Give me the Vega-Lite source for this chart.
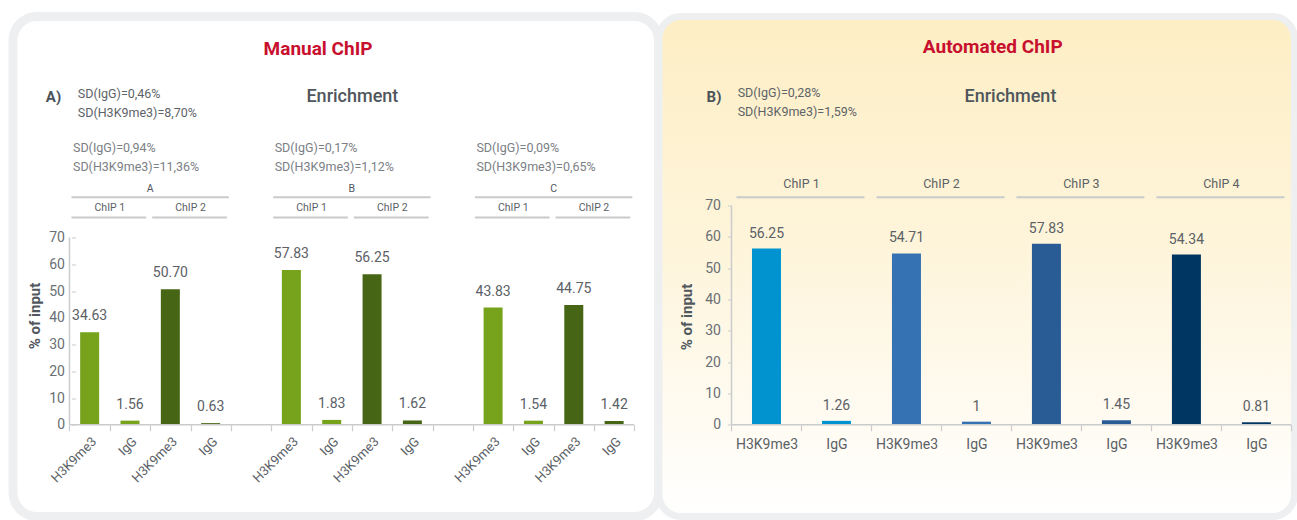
{
  "$schema": "https://vega.github.io/schema/vega-lite/v6.json",
  "padding": {"left": 8, "top": 11.5, "right": 0, "bottom": 0},
  "background": "#ffffff",
  "bounds": "flush",
  "spacing": 0,
  "resolve": {"scale": {"color": "independent"}},
  "hconcat": [
    {
      "width": 645.5,
      "height": 500,
      "view": {"fill": "#ffffff", "stroke": "#EEEFF1", "strokeWidth": 9, "cornerRadius": 24},
      "data": {"values": [
        {"slot": "H3K9me3", "group": "A", "chip": "ChIP 1", "value": 34.63, "label": "34.63"},
        {"slot": "IgG", "group": "A", "chip": "ChIP 1", "value": 1.56, "label": "1.56"},
        {"slot": "H3K9me3\u200b", "group": "A", "chip": "ChIP 2", "value": 50.70, "label": "50.70"},
        {"slot": "IgG\u200b", "group": "A", "chip": "ChIP 2", "value": 0.63, "label": "0.63"},
        {"slot": "H3K9me3\u200b\u200b", "group": "B", "chip": "ChIP 1", "value": 57.83, "label": "57.83"},
        {"slot": "IgG\u200b\u200b", "group": "B", "chip": "ChIP 1", "value": 1.83, "label": "1.83"},
        {"slot": "H3K9me3\u200b\u200b\u200b", "group": "B", "chip": "ChIP 2", "value": 56.25, "label": "56.25"},
        {"slot": "IgG\u200b\u200b\u200b", "group": "B", "chip": "ChIP 2", "value": 1.62, "label": "1.62"},
        {"slot": "H3K9me3\u200b\u200b\u200b\u200b", "group": "C", "chip": "ChIP 1", "value": 43.83, "label": "43.83"},
        {"slot": "IgG\u200b\u200b\u200b\u200b", "group": "C", "chip": "ChIP 1", "value": 1.54, "label": "1.54"},
        {"slot": "H3K9me3\u200b\u200b\u200b\u200b\u200b", "group": "C", "chip": "ChIP 2", "value": 44.75, "label": "44.75"},
        {"slot": "IgG\u200b\u200b\u200b\u200b\u200b", "group": "C", "chip": "ChIP 2", "value": 1.42, "label": "1.42"}
      ]},
      "layer": [
        {
          "mark": {"type": "bar", "width": 19},
          "encoding": {
            "x": {
              "field": "slot", "type": "nominal",
              "scale": {"domain": ["H3K9me3", "IgG", "H3K9me3\u200b", "IgG\u200b", "\u200c", "H3K9me3\u200b\u200b", "IgG\u200b\u200b", "H3K9me3\u200b\u200b\u200b", "IgG\u200b\u200b\u200b", "\u200c\u200c", "H3K9me3\u200b\u200b\u200b\u200b", "IgG\u200b\u200b\u200b\u200b", "H3K9me3\u200b\u200b\u200b\u200b\u200b", "IgG\u200b\u200b\u200b\u200b\u200b"], "paddingInner": 0, "paddingOuter": 1.122, "align": 0.70},
              "axis": {"title": null, "orient": "bottom", "offset": -91.7, "domain": false, "tickBand": "extent", "tickSize": 6, "tickColor": "#C9CBCD", "tickWidth": 1.2, "labelAngle": -45, "labelFont": "Roboto", "labelFontSize": 13, "labelColor": "#5b6166", "labelPadding": 4}
            },
            "y": {
              "field": "value", "type": "quantitative",
              "scale": {"domain": [-34.27, 152.6], "nice": false, "zero": false},
              "axis": {"values": [0,10,20,30,40,50,60,70], "offset": -62.5, "domain": false, "grid": false, "tickSize": 4, "tickColor": "#C9CBCD", "labelPadding": 7, "labelFont": "Roboto", "labelFontSize": 14, "labelColor": "#6a6f74",
                "title": "% of input", "titleFont": "Roboto", "titleFontSize": 15, "titleFontWeight": "bold", "titleColor": "#50575d", "titleX": -41, "titleY": 299, "titleBaseline": "middle", "titleAngle": -90}
            },
            "color": {"field": "chip", "type": "nominal", "scale": {"domain": ["ChIP 1", "ChIP 2"], "range": ["#77A21B", "#466615"]}, "legend": null}
          }
        },
        {
          "mark": {"type": "text", "dy": -16, "baseline": "middle", "font": "Roboto", "fontSize": 14, "color": "#5b6166"},
          "encoding": {
            "x": {"field": "slot", "type": "nominal"},
            "y": {"field": "value", "type": "quantitative"},
            "text": {"field": "label"}
          }
        },
        {
          "data": {"values": [{}]},
          "mark": {"type": "rule", "color": "#C9CBCD", "strokeWidth": 1.5},
          "encoding": {"x": {"datum": "H3K9me3", "bandPosition": 0}, "y": {"datum": 0}, "y2": {"datum": 70}}
        },
        {
          "data": {"values": [{}]},
          "mark": {"type": "rule", "color": "#C9CBCD", "strokeWidth": 1.5},
          "encoding": {"x": {"datum": "H3K9me3", "bandPosition": 0}, "x2": {"datum": "IgG\u200b\u200b\u200b\u200b\u200b", "bandPosition": 1}, "y": {"datum": 0}}
        },
        {
          "data": {"values": [
            {"group": "A", "first": "H3K9me3", "mid": "H3K9me3\u200b", "last": "IgG\u200b", "sdIgG": "SD(IgG)=0,94%", "sdH3": "SD(H3K9me3)=11,36%"},
            {"group": "B", "first": "H3K9me3\u200b\u200b", "mid": "H3K9me3\u200b\u200b\u200b", "last": "IgG\u200b\u200b\u200b", "sdIgG": "SD(IgG)=0,17%", "sdH3": "SD(H3K9me3)=1,12%"},
            {"group": "C", "first": "H3K9me3\u200b\u200b\u200b\u200b", "mid": "H3K9me3\u200b\u200b\u200b\u200b\u200b", "last": "IgG\u200b\u200b\u200b\u200b\u200b", "sdIgG": "SD(IgG)=0,09%", "sdH3": "SD(H3K9me3)=0,65%"}
          ]},
          "layer": [
            {
              "mark": {"type": "text", "font": "Roboto", "fontSize": 10.5, "color": "#50575d", "baseline": "middle"},
              "encoding": {"x": {"field": "mid", "type": "nominal", "bandPosition": 0}, "y": {"datum": 88.3}, "text": {"field": "group"}}
            },
            {
              "mark": {"type": "rule", "color": "#C8CACC", "strokeWidth": 2, "xOffset": 2, "x2Offset": -2},
              "encoding": {"x": {"field": "first", "type": "nominal", "bandPosition": 0}, "x2": {"field": "last", "bandPosition": 1}, "y": {"datum": 85}}
            },
            {
              "mark": {"type": "text", "font": "Roboto", "fontSize": 12.5, "color": "#7b8085", "baseline": "middle", "align": "left", "dx": 3.5},
              "encoding": {"x": {"field": "first", "type": "nominal", "bandPosition": 0}, "y": {"datum": 103.6}, "text": {"field": "sdIgG"}}
            },
            {
              "mark": {"type": "text", "font": "Roboto", "fontSize": 12.5, "color": "#7b8085", "baseline": "middle", "align": "left", "dx": 3.5},
              "encoding": {"x": {"field": "first", "type": "nominal", "bandPosition": 0}, "y": {"datum": 96.5}, "text": {"field": "sdH3"}}
            }
          ]
        },
        {
          "data": {"values": [
            {"chip": "ChIP 1", "first": "H3K9me3", "last": "IgG"},
            {"chip": "ChIP 2", "first": "H3K9me3\u200b", "last": "IgG\u200b"},
            {"chip": "ChIP 1", "first": "H3K9me3\u200b\u200b", "last": "IgG\u200b\u200b"},
            {"chip": "ChIP 2", "first": "H3K9me3\u200b\u200b\u200b", "last": "IgG\u200b\u200b\u200b"},
            {"chip": "ChIP 1", "first": "H3K9me3\u200b\u200b\u200b\u200b", "last": "IgG\u200b\u200b\u200b\u200b"},
            {"chip": "ChIP 2", "first": "H3K9me3\u200b\u200b\u200b\u200b\u200b", "last": "IgG\u200b\u200b\u200b\u200b\u200b"}
          ]},
          "layer": [
            {
              "mark": {"type": "text", "font": "Roboto", "fontSize": 10.5, "color": "#5b6166", "baseline": "middle"},
              "encoding": {"x": {"field": "last", "type": "nominal", "bandPosition": 0}, "y": {"datum": 81.2}, "text": {"field": "chip"}}
            },
            {
              "mark": {"type": "rule", "color": "#C8CACC", "strokeWidth": 2, "xOffset": 2, "x2Offset": -4},
              "encoding": {"x": {"field": "first", "type": "nominal", "bandPosition": 0}, "x2": {"field": "last", "bandPosition": 1}, "y": {"datum": 77.5}}
            }
          ]
        },
        {
          "data": {"values": [{}]},
          "layer": [
            {"mark": {"type": "text", "text": "A)", "font": "Roboto", "fontSize": 15, "fontWeight": "bold", "color": "#4b5359", "baseline": "middle", "dx": -16},
             "encoding": {"x": {"datum": "H3K9me3", "bandPosition": 0}, "y": {"datum": 122.4}}},
            {"mark": {"type": "text", "text": "SD(IgG)=0,46%", "font": "Roboto", "fontSize": 12.5, "color": "#5d6368", "baseline": "middle", "align": "left", "dx": 8.3},
             "encoding": {"x": {"datum": "H3K9me3", "bandPosition": 0}, "y": {"datum": 123.8}}},
            {"mark": {"type": "text", "text": "SD(H3K9me3)=8,70%", "font": "Roboto", "fontSize": 12.5, "color": "#5d6368", "baseline": "middle", "align": "left", "dx": 8.3},
             "encoding": {"x": {"datum": "H3K9me3", "bandPosition": 0}, "y": {"datum": 116.7}}},
            {"mark": {"type": "text", "text": "Enrichment", "font": "Roboto", "fontSize": 18, "fontWeight": 500, "color": "#4f565c", "baseline": "middle", "dx": 0.5},
             "encoding": {"x": {"datum": "H3K9me3\u200b\u200b\u200b", "bandPosition": 0}, "y": {"datum": 122.4}}},
            {"mark": {"type": "text", "text": "Manual ChIP", "font": "Roboto", "fontSize": 19, "fontWeight": "bold", "color": "#C8102E", "baseline": "middle", "dx": 6.5},
             "encoding": {"x": {"datum": "IgG\u200b\u200b", "bandPosition": 0}, "y": {"datum": 140.5}}}
          ]
        }
      ]
    },
    {
      "width": 635.5,
      "height": 500,
      "view": {
        "fill": {"gradient": "linear", "x1": 0, "y1": 0, "x2": 0, "y2": 1, "stops": [
          {"offset": 0, "color": "#FDEEC4"},
          {"offset": 0.5, "color": "#FEF5DD"},
          {"offset": 0.85, "color": "#FFFCF5"},
          {"offset": 1, "color": "#FFFFFF"}
        ]},
        "stroke": "#EEEFF1", "strokeWidth": 7, "cornerRadius": 22
      },
      "data": {"values": [
        {"slot": "H3K9me3", "chip": "ChIP 1", "value": 56.25, "label": "56.25"},
        {"slot": "IgG", "chip": "ChIP 1", "value": 1.26, "label": "1.26"},
        {"slot": "H3K9me3\u200b", "chip": "ChIP 2", "value": 54.71, "label": "54.71"},
        {"slot": "IgG\u200b", "chip": "ChIP 2", "value": 1, "label": "1"},
        {"slot": "H3K9me3\u200b\u200b", "chip": "ChIP 3", "value": 57.83, "label": "57.83"},
        {"slot": "IgG\u200b\u200b", "chip": "ChIP 3", "value": 1.45, "label": "1.45"},
        {"slot": "H3K9me3\u200b\u200b\u200b", "chip": "ChIP 4", "value": 54.34, "label": "54.34"},
        {"slot": "IgG\u200b\u200b\u200b", "chip": "ChIP 4", "value": 0.81, "label": "0.81"}
      ]},
      "layer": [
        {
          "mark": {"type": "bar", "width": 29},
          "encoding": {
            "x": {
              "field": "slot", "type": "nominal",
              "scale": {"domain": ["H3K9me3", "IgG", "H3K9me3\u200b", "IgG\u200b", "H3K9me3\u200b\u200b", "IgG\u200b\u200b", "H3K9me3\u200b\u200b\u200b", "IgG\u200b\u200b\u200b"], "paddingInner": 0, "paddingOuter": 0.54, "align": 0.959},
              "axis": {"title": null, "orient": "bottom", "offset": -91.7, "domain": false, "tickBand": "extent", "tickSize": 6, "tickColor": "#C9CBCD", "tickWidth": 1.2, "labelAngle": 0, "labelFont": "Roboto", "labelFontSize": 14, "labelColor": "#5b6166", "labelPadding": 7}
            },
            "y": {
              "field": "value", "type": "quantitative",
              "scale": {"domain": [-29.27, 130.33], "nice": false, "zero": false},
              "axis": {"values": [0,10,20,30,40,50,60,70], "offset": -72.5, "domain": false, "grid": false, "tickSize": 4, "tickColor": "#C9CBCD", "labelPadding": 7, "labelFont": "Roboto", "labelFontSize": 14, "labelColor": "#6a6f74",
                "title": "% of input", "titleFont": "Roboto", "titleFontSize": 15, "titleFontWeight": "bold", "titleColor": "#50575d", "titleX": -45.5, "titleY": 300, "titleBaseline": "middle", "titleAngle": -90}
            },
            "color": {"field": "chip", "type": "nominal", "scale": {"domain": ["ChIP 1", "ChIP 2", "ChIP 3", "ChIP 4"], "range": ["#0093D0", "#3472B4", "#295C94", "#003662"]}, "legend": null}
          }
        },
        {
          "mark": {"type": "text", "dy": -15, "baseline": "middle", "font": "Roboto", "fontSize": 14, "color": "#5b6166"},
          "encoding": {
            "x": {"field": "slot", "type": "nominal"},
            "y": {"field": "value", "type": "quantitative"},
            "text": {"field": "label"}
          }
        },
        {
          "data": {"values": [{}]},
          "mark": {"type": "rule", "color": "#C9CBCD", "strokeWidth": 1.5},
          "encoding": {"x": {"datum": "H3K9me3", "bandPosition": 0}, "y": {"datum": 0}, "y2": {"datum": 70}}
        },
        {
          "data": {"values": [{}]},
          "mark": {"type": "rule", "color": "#C9CBCD", "strokeWidth": 1.5},
          "encoding": {"x": {"datum": "H3K9me3", "bandPosition": 0}, "x2": {"datum": "IgG\u200b\u200b\u200b", "bandPosition": 1}, "y": {"datum": 0}}
        },
        {
          "data": {"values": [
            {"chip": "ChIP 1", "first": "H3K9me3", "last": "IgG"},
            {"chip": "ChIP 2", "first": "H3K9me3\u200b", "last": "IgG\u200b"},
            {"chip": "ChIP 3", "first": "H3K9me3\u200b\u200b", "last": "IgG\u200b\u200b"},
            {"chip": "ChIP 4", "first": "H3K9me3\u200b\u200b\u200b", "last": "IgG\u200b\u200b\u200b"}
          ]},
          "layer": [
            {
              "mark": {"type": "text", "font": "Roboto", "fontSize": 12.5, "color": "#5b6166", "baseline": "middle"},
              "encoding": {"x": {"field": "last", "type": "nominal", "bandPosition": 0}, "y": {"datum": 76.9}, "text": {"field": "chip"}}
            },
            {
              "mark": {"type": "rule", "color": "#C8CACC", "strokeWidth": 2, "xOffset": 5, "x2Offset": -7},
              "encoding": {"x": {"field": "first", "type": "nominal", "bandPosition": 0}, "x2": {"field": "last", "bandPosition": 1}, "y": {"datum": 72.65}}
            }
          ]
        },
        {
          "data": {"values": [{}]},
          "layer": [
            {"mark": {"type": "text", "text": "B)", "font": "Roboto", "fontSize": 15, "fontWeight": "bold", "color": "#4b5359", "baseline": "middle", "dx": -17.5},
             "encoding": {"x": {"datum": "H3K9me3", "bandPosition": 0}, "y": {"datum": 104.6}}},
            {"mark": {"type": "text", "text": "SD(IgG)=0,28%", "font": "Roboto", "fontSize": 12.5, "color": "#5d6368", "baseline": "middle", "align": "left", "dx": 6.2},
             "encoding": {"x": {"datum": "H3K9me3", "bandPosition": 0}, "y": {"datum": 105.8}}},
            {"mark": {"type": "text", "text": "SD(H3K9me3)=1,59%", "font": "Roboto", "fontSize": 12.5, "color": "#5d6368", "baseline": "middle", "align": "left", "dx": 6.2},
             "encoding": {"x": {"datum": "H3K9me3", "bandPosition": 0}, "y": {"datum": 99.8}}},
            {"mark": {"type": "text", "text": "Enrichment", "font": "Roboto", "fontSize": 18, "fontWeight": 500, "color": "#4f565c", "baseline": "middle", "dx": -1},
             "encoding": {"x": {"datum": "H3K9me3\u200b\u200b", "bandPosition": 0}, "y": {"datum": 104.6}}},
            {"mark": {"type": "text", "text": "Automated ChIP", "font": "Roboto", "fontSize": 19, "fontWeight": "bold", "color": "#C8102E", "baseline": "middle", "dx": -18.7},
             "encoding": {"x": {"datum": "H3K9me3\u200b\u200b", "bandPosition": 0}, "y": {"datum": 120.5}}}
          ]
        }
      ]
    }
  ]
}
